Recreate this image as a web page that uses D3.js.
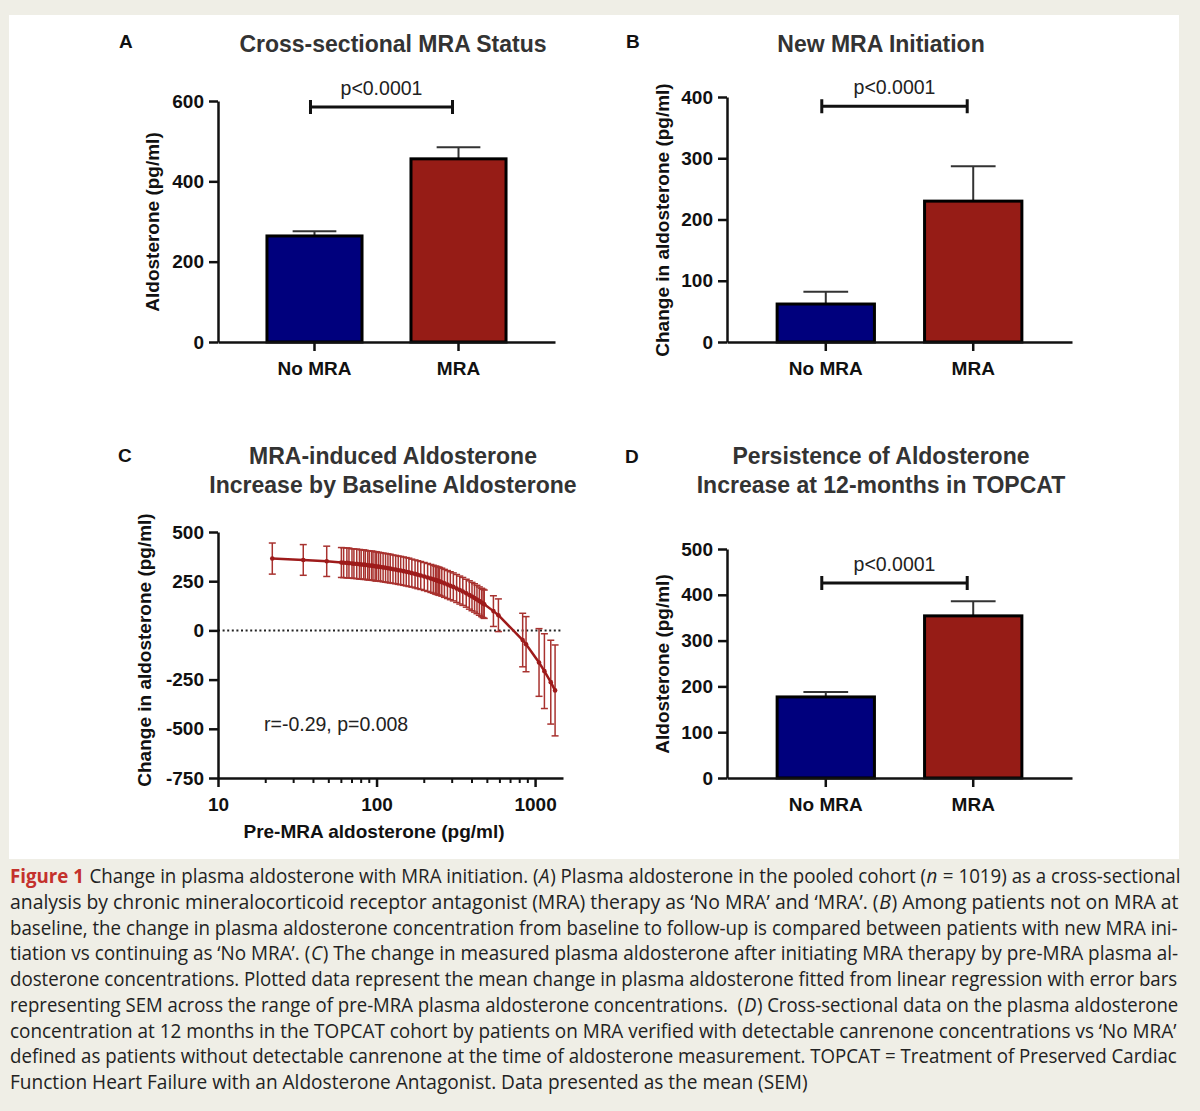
<!DOCTYPE html>
<html>
<head>
<meta charset="utf-8">
<script src="https://cdn.jsdelivr.net/npm/d3@7"></script>
<style>
  body { margin: 0; background: #efeee6; }
  svg { display: block; }
  .axis path, .axis line { stroke: #111; stroke-width: 2.5; }
  .axis text { font-family: "Liberation Sans", Arial, sans-serif; font-weight: bold; font-size: 19px; fill: #111; }
</style>
</head>
<body>
<script>
// groups shared by the bar panels
var groups = ["No MRA", "MRA"];

// panel A: cross-sectional MRA status
var meanA = [264, 456];
var semA = [12, 29];
var sigA = 585;
var ticksA = [0, 200, 400, 600];

// panel B: new MRA initiation (change)
var meanB = [62, 230];
var semB = [20, 57];
var sigB = 385;
var ticksB = [0, 100, 200, 300, 400];

// panel D: TOPCAT 12 months
var meanD = [177, 354];
var semD = [11, 32];
var sigD = 426;
var ticksD = [0, 100, 200, 300, 400, 500];

// panel C: change by pre-MRA aldosterone
var preAldo = [22, 34.5, 48.5,
  60, 62, 65, 67, 70, 72, 75, 78, 80, 83,
  85, 88, 90, 93, 95, 98, 100, 103, 106, 110,
  114, 118, 122, 127, 132, 137, 142, 148, 154, 160,
  167, 175, 182, 190, 200, 210, 220, 228, 235, 240,
  245, 250, 258, 268, 280, 292, 305, 320, 335, 350,
  368, 385, 400, 415, 430, 445, 460, 470, 478,
  546, 587, 835, 877, 1059, 1145, 1256, 1337];
var changeMean = [365, 358, 351,
  345, 344, 343, 342, 340, 339, 338, 336, 335, 334,
  333, 331, 330, 329, 328, 326, 325, 324, 322, 320,
  318, 316, 314, 311, 309, 306, 304, 301, 298, 295,
  291, 287, 283, 279, 274, 269, 264, 260, 256, 254,
  251, 249, 245, 239, 233, 227, 221, 213, 205, 198,
  189, 180, 172, 165, 157, 149, 142, 137, 133,
  98, 77, -49, -70, -163, -207, -263, -305];
var changeSem = [79, 78, 77,
  76, 76, 76, 76, 75, 75, 75, 75, 75, 75,
  74, 74, 74, 74, 74, 74, 74, 73, 73, 73,
  73, 73, 73, 72, 72, 72, 72, 72, 72, 72,
  71, 71, 71, 71, 71, 71, 71, 71, 71, 71,
  71, 71, 71, 71, 71, 71, 71, 71, 71, 71,
  71, 72, 72, 72, 72, 72, 72, 72, 72,
  78, 83, 136, 140, 172, 190, 213, 231];
var ticksCy = [-750, -500, -250, 0, 250, 500];
var ticksCx = [10, 100, 1000];
var minorCx = [20, 30, 40, 50, 60, 70, 80, 90, 200, 300, 400, 500, 600, 700, 800, 900];

var barColors = ["#00007d", "#961c16"];
var lineRed = "#9e1b1b";
var fontSans = "'Liberation Sans', Arial, sans-serif";

var svg = d3.select("body").append("svg")
            .attr("width", 1200)
            .attr("height", 1111);

svg.append("rect").attr("width", 1200).attr("height", 1111).attr("fill", "#efeee6");
svg.append("rect").attr("x", 9).attr("y", 15).attr("width", 1170).attr("height", 844).attr("fill", "#fff");

function label(x, y, txt, size, weight, color, anchor) {
  return svg.append("text")
            .attr("x", x)
            .attr("y", y)
            .attr("font-family", fontSans)
            .attr("font-size", size + "px")
            .attr("font-weight", weight)
            .attr("fill", color)
            .attr("text-anchor", anchor || "middle")
            .text(txt);
}

function yTitle(x, y, txt) {
  svg.append("text")
     .attr("transform", "translate(" + x + "," + y + ") rotate(-90)")
     .attr("font-family", fontSans)
     .attr("font-size", "19px")
     .attr("font-weight", "bold")
     .attr("fill", "#111")
     .attr("text-anchor", "middle")
     .text(txt);
}

function barPanel(p) {
  var x = d3.scaleBand().domain(groups).range([p.left, p.right])
            .paddingInner(0.34).paddingOuter(0.34);
  var y = d3.scaleLinear().domain([0, p.max]).range([p.bottom, p.top]);
  var bw = x.bandwidth();
  var g = svg.append("g");

  // whiskers (upper SEM only)
  var err = g.selectAll(".err").data(groups).enter().append("g");
  err.append("line")
     .attr("x1", function(d) { return x(d) + bw / 2; })
     .attr("x2", function(d) { return x(d) + bw / 2; })
     .attr("y1", function(d, i) { return y(p.mean[i]); })
     .attr("y2", function(d, i) { return y(p.mean[i] + p.sem[i]); })
     .attr("stroke", "#333").attr("stroke-width", 2);
  err.append("line")
     .attr("x1", function(d) { return x(d) + bw / 2 - bw * 0.23; })
     .attr("x2", function(d) { return x(d) + bw / 2 + bw * 0.23; })
     .attr("y1", function(d, i) { return y(p.mean[i] + p.sem[i]); })
     .attr("y2", function(d, i) { return y(p.mean[i] + p.sem[i]); })
     .attr("stroke", "#333").attr("stroke-width", 2);

  g.selectAll(".bar").data(groups).enter().append("rect")
   .attr("x", function(d) { return x(d); })
   .attr("y", function(d, i) { return y(p.mean[i]); })
   .attr("width", bw)
   .attr("height", function(d, i) { return y(0) - y(p.mean[i]); })
   .attr("fill", function(d, i) { return barColors[i]; })
   .attr("stroke", "#000")
   .attr("stroke-width", 3);

  g.append("g").attr("class", "axis")
   .attr("transform", "translate(" + p.left + ",0)")
   .call(d3.axisLeft(y).tickValues(p.ticks).tickSize(9).tickSizeOuter(0).tickPadding(5));
  var xa = g.append("g").attr("class", "axis")
   .attr("transform", "translate(0," + p.bottom + ")")
   .call(d3.axisBottom(x).tickSize(9).tickSizeOuter(0).tickPadding(7));
  xa.selectAll("text").attr("dy", "0.9em");

  // significance bracket
  var sx1 = x(groups[0]) + bw / 2 - 4, sx2 = x(groups[1]) + bw / 2 - 6, sy = y(p.sig);
  g.append("path")
   .attr("d", "M" + sx1 + "," + (sy - 7) + "V" + (sy + 7) + "M" + sx1 + "," + sy + "H" + sx2 +
              "M" + sx2 + "," + (sy - 7) + "V" + (sy + 7))
   .attr("stroke", "#111").attr("stroke-width", 3).attr("fill", "none");
  label((sx1 + sx2) / 2, sy - 12, "p<0.0001", 19.5, "normal", "#222");
}

barPanel({ left: 218, right: 555, top: 101, bottom: 342, max: 600, ticks: ticksA, mean: meanA, sem: semA, sig: sigA });
barPanel({ left: 727, right: 1072, top: 97, bottom: 342, max: 400, ticks: ticksB, mean: meanB, sem: semB, sig: sigB });
barPanel({ left: 727, right: 1072, top: 549, bottom: 778, max: 500, ticks: ticksD, mean: meanD, sem: semD, sig: sigD });

// panel C
var xC = d3.scaleLog().domain([10, 1500]).range([218, 563]);
var yC = d3.scaleLinear().domain([-750, 500]).range([778, 532]);
var pts = preAldo.map(function(v, i) { return { x: v, m: changeMean[i], s: changeSem[i] }; });

svg.append("line")
   .attr("x1", xC(10)).attr("x2", xC(1500))
   .attr("y1", yC(0)).attr("y2", yC(0))
   .attr("stroke", "#222").attr("stroke-width", 2).attr("stroke-dasharray", "2,2.6");

var eb = svg.append("g").attr("stroke", "#a8322f").attr("stroke-width", 1.5);
pts.forEach(function(d) {
  var cx = xC(d.x);
  eb.append("line").attr("x1", cx).attr("x2", cx).attr("y1", yC(d.m - d.s)).attr("y2", yC(d.m + d.s));
  eb.append("line").attr("x1", cx - 3.5).attr("x2", cx + 3.5).attr("y1", yC(d.m - d.s)).attr("y2", yC(d.m - d.s));
  eb.append("line").attr("x1", cx - 3.5).attr("x2", cx + 3.5).attr("y1", yC(d.m + d.s)).attr("y2", yC(d.m + d.s));
});

svg.append("path")
   .datum(pts)
   .attr("d", d3.line().x(function(d) { return xC(d.x); }).y(function(d) { return yC(d.m); }))
   .attr("fill", "none").attr("stroke", lineRed).attr("stroke-width", 2.5);
svg.selectAll(".pt").data(pts).enter().append("circle")
   .attr("cx", function(d) { return xC(d.x); })
   .attr("cy", function(d) { return yC(d.m); })
   .attr("r", 2.3).attr("fill", lineRed);

svg.append("g").attr("class", "axis")
   .attr("transform", "translate(218,0)")
   .call(d3.axisLeft(yC).tickValues(ticksCy).tickFormat(function(d) { return String(d); })
                        .tickSize(9).tickSizeOuter(0).tickPadding(5));
var xaC = svg.append("g").attr("class", "axis")
   .attr("transform", "translate(0,778)")
   .call(d3.axisBottom(xC).tickValues(ticksCx).tickFormat(function(d) { return String(d); })
                          .tickSize(9).tickSizeOuter(0).tickPadding(7));
xaC.selectAll("text").attr("dy", "0.9em");
svg.append("g").attr("transform", "translate(0,778)")
   .selectAll("line").data(minorCx).enter().append("line")
   .attr("x1", function(d) { return xC(d); }).attr("x2", function(d) { return xC(d); })
   .attr("y1", 0).attr("y2", 5)
   .attr("stroke", "#111").attr("stroke-width", 2);

label(264, 731, "r=-0.29, p=0.008", 19.5, "normal", "#222", "start");
label(374, 838, "Pre-MRA aldosterone (pg/ml)", 19, "bold", "#111");

// titles and panel letters
label(119, 48, "A", 19, "bold", "#111", "start");
label(626, 48, "B", 19, "bold", "#111", "start");
label(118, 462, "C", 19, "bold", "#111", "start");
label(625, 463, "D", 19, "bold", "#111", "start");
label(393, 52, "Cross-sectional MRA Status", 23, "bold", "#333");
label(881, 52, "New MRA Initiation", 23, "bold", "#333");
label(393, 464, "MRA-induced Aldosterone", 23, "bold", "#333");
label(393, 493, "Increase by Baseline Aldosterone", 23, "bold", "#333");
label(881, 464, "Persistence of Aldosterone", 23, "bold", "#333");
label(881, 493, "Increase at 12-months in TOPCAT", 23, "bold", "#333");

yTitle(159, 222, "Aldosterone (pg/ml)");
yTitle(669, 220, "Change in aldosterone (pg/ml)");
yTitle(151, 650, "Change in aldosterone (pg/ml)");
yTitle(669, 664, "Aldosterone (pg/ml)");

// caption: font size per line picked so the line fills its width, then stretched
// vertically to keep the letter height (gives the narrow journal look)
var caption = [
  [["Figure 1", "fig"], [" Change in plasma aldosterone with MRA initiation. (", ""], ["A", "i"], [") Plasma aldosterone in the pooled cohort (", ""], ["n", "i"], [" = 1019) as a cross-sectional", ""]],
  [["analysis by chronic mineralocorticoid receptor antagonist (MRA) therapy as \u2018No MRA\u2019 and \u2018MRA\u2019. (", ""], ["B", "i"], [") Among patients not on MRA at", ""]],
  [["baseline, the change in plasma aldosterone concentration from baseline to follow-up is compared between patients with new MRA ini-", ""]],
  [["tiation vs continuing as \u2018No MRA\u2019. (", ""], ["C", "i"], [") The change in measured plasma aldosterone after initiating MRA therapy by pre-MRA plasma al-", ""]],
  [["dosterone concentrations. Plotted data represent the mean change in plasma aldosterone fitted from linear regression with error bars", ""]],
  [["representing SEM across the range of pre-MRA plasma aldosterone concentrations.\u00a0\u00a0(", ""], ["D", "i"], [") Cross-sectional data on the plasma aldosterone", ""]],
  [["concentration at 12 months in the TOPCAT cohort by patients on MRA verified with detectable canrenone concentrations vs \u2018No MRA\u2019", ""]],
  [["defined as patients without detectable canrenone at the time of aldosterone measurement. TOPCAT = Treatment of Preserved Cardiac", ""]],
  [["Function Heart Failure with an Aldosterone Antagonist. Data presented as the mean (SEM)", ""]]
];

var baseSize = 19.5;
caption.forEach(function(line, i) {
  var target = i < 8 ? 1168 : 798;
  var row = svg.append("g");
  var items = line.map(function(seg) {
    var t = row.append("text")
               .attr("y", 0)
               .attr("font-family", "'Open Sans', sans-serif")
               .attr("font-size", baseSize + "px")
               .attr("fill", "#222")
               .style("white-space", "pre")
               .text(seg[0]);
    if (seg[1] === "fig") t.attr("fill", "#c4312c").attr("font-weight", "bold");
    if (seg[1] === "i") t.attr("font-style", "italic");
    return t;
  });
  var total = d3.sum(items, function(t) { return t.node().getComputedTextLength(); });
  var k = target / total;
  var cx = 10;
  items.forEach(function(t) {
    t.attr("font-size", (baseSize * k) + "px").attr("x", cx);
    cx += t.node().getComputedTextLength() + 0.6;
  });
  row.attr("transform", "translate(0," + (883 + i * 25.75) + ") scale(1," + (1 / k) + ")");
});
</script>
</body>
</html>
